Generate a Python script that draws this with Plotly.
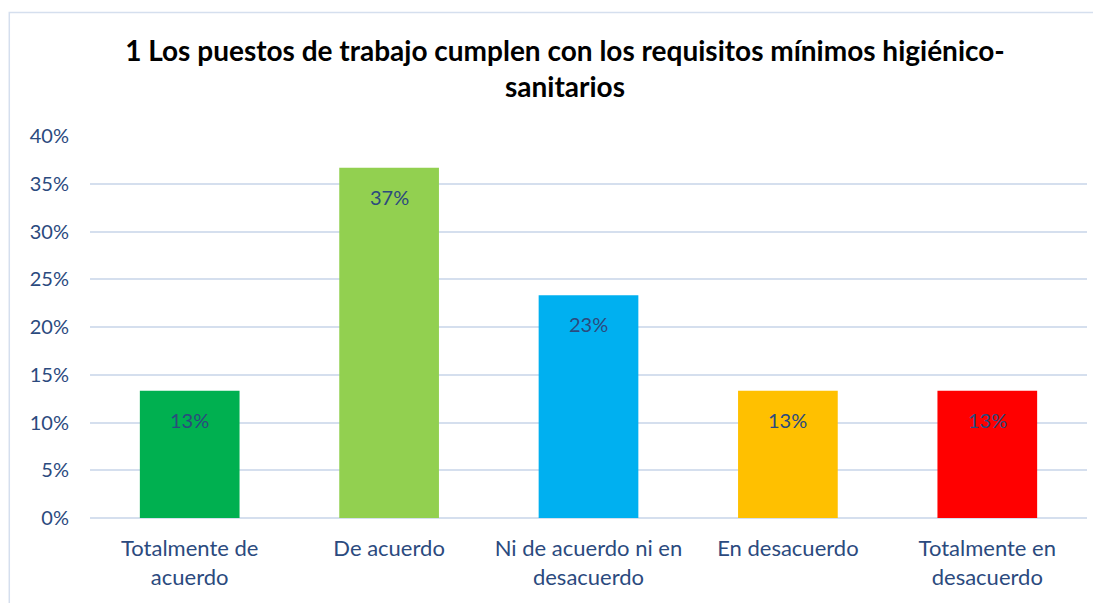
import plotly.graph_objects as go

categories = ["Totalmente de<br>acuerdo", "De acuerdo", "Ni de acuerdo ni en<br>desacuerdo",
              "En desacuerdo", "Totalmente en<br>desacuerdo"]
values = [0.1333, 0.3667, 0.2333, 0.1333, 0.1333]
colors = ["#00B050", "#92D050", "#00B0F0", "#FFC000", "#FF0000"]
title_text = "1 Los puestos de trabajo cumplen con los requisitos mínimos higiénico-<br>sanitarios"
tick_vals = [0, 0.05, 0.10, 0.15, 0.20, 0.25, 0.30, 0.35, 0.40]

# page is drawn with an 8px body offset
W, H = 1093, 595
ml, mt = 81.5, 128
mr = W - 1079
mb = H - 510
pw, ph = W - ml - mr, H - mt - mb

text_color = "#2B4A7E"
font_family = "Lato, 'Open Sans', sans-serif"

fig = go.Figure()
fig.add_trace(go.Bar(
    x=categories, y=values, marker=dict(color=colors, line=dict(width=0)),
    width=0.5, hoverinfo="skip", showlegend=False,
))

for c, v in zip(categories, values):
    fig.add_annotation(x=c, y=v, text=f"{round(v*100):d}%", showarrow=False,
                       yshift=-29, yanchor="middle",
                       font=dict(size=20, color=text_color, family=font_family))

def px_x(x):
    return (x - ml) / pw
def px_y(y):
    return (H - mb - y) / ph

fig.add_shape(type="rect", xref="paper", yref="paper",
              x0=px_x(0.75), x1=px_x(1110), y0=px_y(620), y1=px_y(4.5),
              line=dict(color="#D5DFEE", width=1.5), fillcolor="rgba(0,0,0,0)", layer="below")

fig.update_layout(
    width=W, height=H,
    margin=dict(l=ml, r=mr, t=mt, b=mb),
    paper_bgcolor="white", plot_bgcolor="white",
    title=dict(text=title_text, x=557 / W, xanchor="center", y=1 - 53 / H, yanchor="middle",
               font=dict(size=28, color="#000000", family=font_family, weight="bold")),
    font=dict(family=font_family, color=text_color, size=20),
    xaxis=dict(showline=False, ticks="", tickfont=dict(size=22, color=text_color),
               showgrid=False, ticklabelstandoff=15),
    yaxis=dict(range=[0, 0.40], tickvals=tick_vals, tickformat=".0%",
               showgrid=True, gridcolor="#D5DFEE", gridwidth=2, zeroline=True,
               zerolinecolor="#D5DFEE", zerolinewidth=2, showline=False,
               tickfont=dict(size=20, color=text_color), ticklabelstandoff=20),
    bargap=0.5,
)

fig.write_html("out.html")
